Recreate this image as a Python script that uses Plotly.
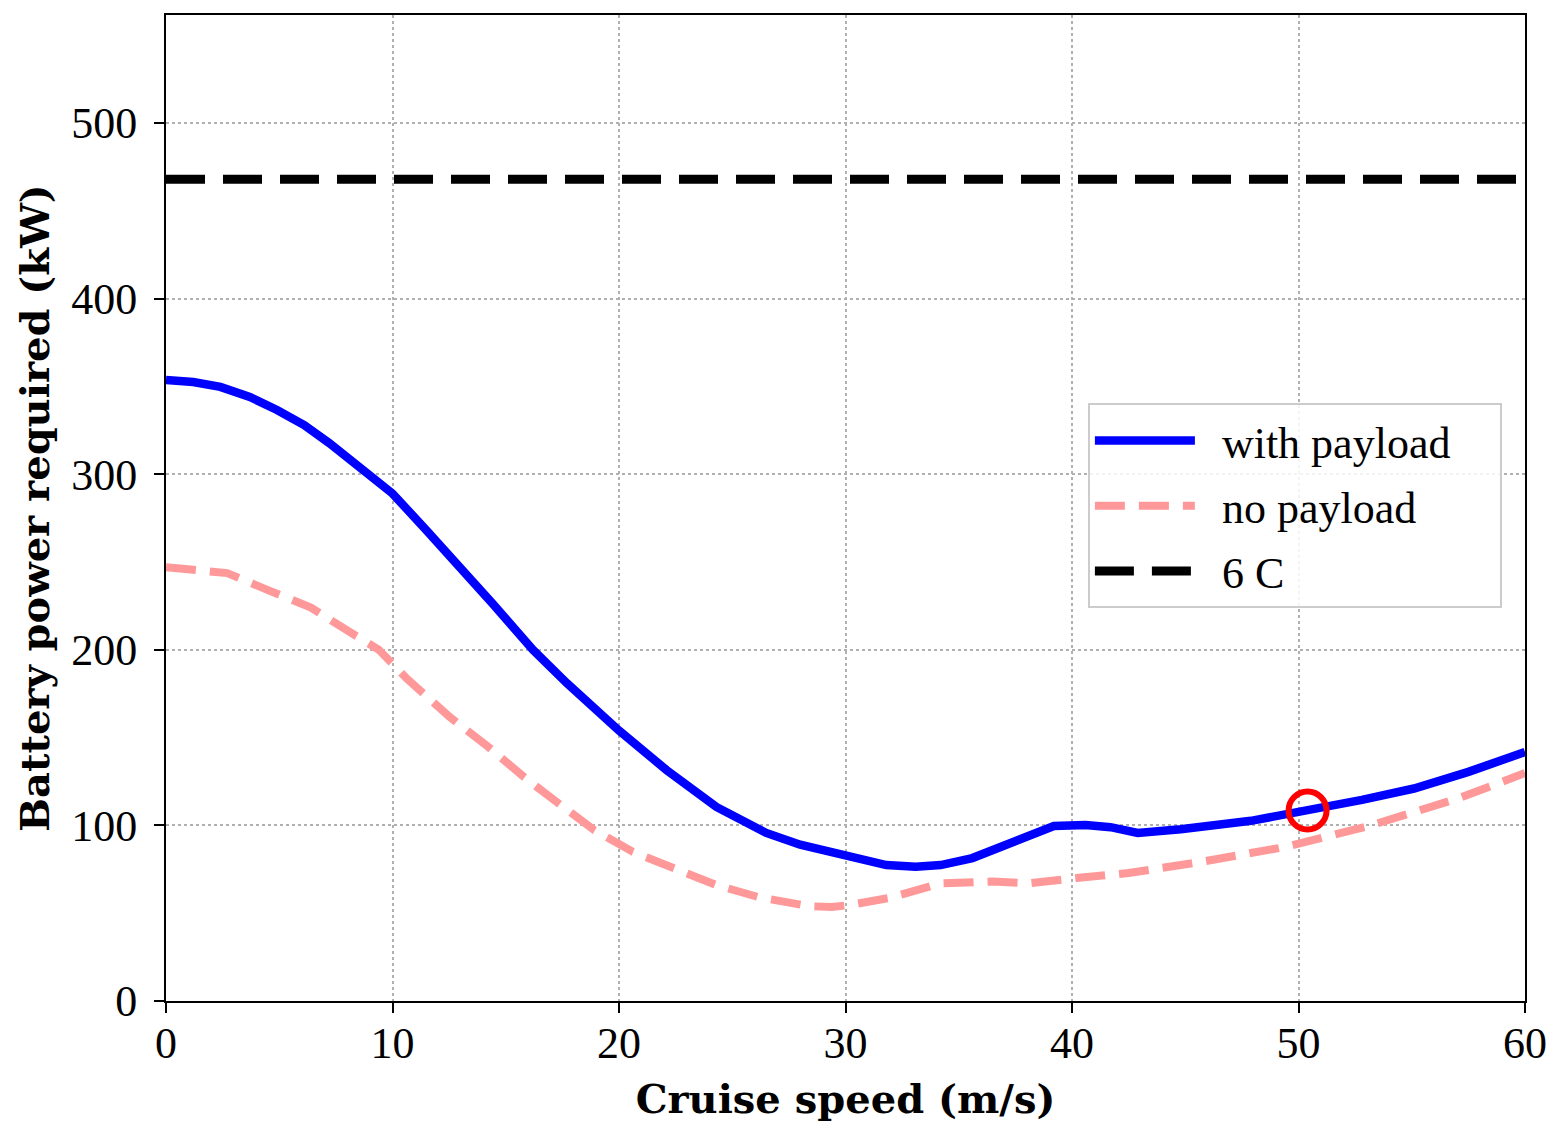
import plotly.graph_objects as go

# Data
speed_with = [0, 1.2, 2.4, 3.7, 4.9, 6.1, 7.2, 8.6, 10, 11.5, 13, 14.4, 16.2, 17.7, 20,
              22.1, 24.3, 26.5, 28.0, 29.4, 30.2, 31.8, 33.1, 34.2, 35.6, 36.7, 38.1, 39.2,
              40.6, 41.7, 42.9, 44.8, 47.9, 50.6, 52.8, 55.1, 57.5, 60]
power_with = [353.6, 352.5, 349.7, 344, 336.6, 328, 317.8, 304, 289, 268, 247, 226.6, 200,
              181, 154, 131.5, 110.5, 95.7, 89, 85, 82.5, 77.4, 76.5, 77.4, 81.4, 87, 94,
              99.7, 100.2, 99, 95.7, 97.8, 102.6, 108.8, 114.5, 121, 130.5, 141.8]

speed_no = [0, 1.2, 2.7, 4.5, 6.4, 8, 9.4, 10.6, 12.5, 14.2, 15.8, 17.3, 18.9, 20.6, 22.4,
            24.3, 26.2, 28.4, 29.4, 30.2, 31.9, 34.2, 36.5, 38.1, 40.2, 42.5, 45.6, 49.4,
            53.2, 57.1, 60]
power_no = [247, 246, 243.7, 234, 224, 211, 200, 184, 162, 145, 127.6, 112.8, 97.4, 85,
            75.7, 66, 59, 54, 53.5, 54.7, 58.6, 67, 68, 67, 70, 72.9, 79, 87.7, 100, 115.6,
            129.8]

limit_x = [0, 60]
limit_power = [468, 468]

highlight_x = [50.4]
highlight_y = [108.5]

x_ticks = [0, 10, 20, 30, 40, 50, 60]
y_ticks = [0, 100, 200, 300, 400, 500]

FONT = "Liberation Serif"
TITLE_FONT = "DejaVu Serif"
LPAD = "\u2002"
RPAD = "\u2002\u2002"

fig = go.Figure()
fig.add_trace(go.Scatter(x=speed_with, y=power_with, mode="lines",
                         name=LPAD + "with payload" + RPAD,
                         line=dict(color="#0000ff", width=8.5), legendgroup="a"))
fig.add_trace(go.Scatter(x=speed_no, y=power_no, mode="lines",
                         name=LPAD + "no payload",
                         line=dict(color="#ff9999", width=8, dash="30px,14px"), legendgroup="b"))
fig.add_trace(go.Scatter(x=limit_x, y=limit_power, mode="lines",
                         name=LPAD + "6 C",
                         line=dict(color="black", width=9, dash="39px,18px"), legendgroup="c"))
fig.add_trace(go.Scatter(x=highlight_x, y=highlight_y, mode="markers", showlegend=False,
                         marker=dict(symbol="circle-open", size=38, color="red",
                                     line=dict(color="red", width=6))))

axis_common = dict(showline=True, linecolor="black", linewidth=2, mirror=True,
                   ticks="outside", ticklen=10, tickwidth=2, tickcolor="black",
                   showgrid=True, gridcolor="#b0b0b0", gridwidth=2, griddash="dot",
                   zeroline=False, automargin=False,
                   tickfont=dict(family=FONT, size=44, color="black"))

fig.update_layout(
    width=1553, height=1129,
    margin=dict(l=166, r=28, t=15, b=128),
    plot_bgcolor="white", paper_bgcolor="white",
    font=dict(family=FONT, color="black"),
    xaxis=dict(range=[0, 60], tickvals=x_ticks, ticktext=[str(v) for v in x_ticks],
               title=dict(text="<b>Cruise speed (m/s)</b>",
                          font=dict(family=TITLE_FONT, size=40), standoff=18),
               ticklabelstandoff=-8,
               **axis_common),
    yaxis=dict(range=[0, 561.5], tickvals=y_ticks, ticktext=[str(v) for v in y_ticks],
               title=dict(text="<b>Battery power required (kW)</b>",
                          font=dict(family=TITLE_FONT, size=40), standoff=9),
               ticklabelstandoff=8,
               **axis_common),
    legend=dict(x=0.983, xanchor="right", y=0.606, yanchor="top",
                bgcolor="rgba(255,255,255,0.85)", bordercolor="#cccccc", borderwidth=2,
                font=dict(family=FONT, size=44, color="black"),
                traceorder="grouped", tracegroupgap=5, itemwidth=100),
    showlegend=True,
)

fig.write_html("out.html")
